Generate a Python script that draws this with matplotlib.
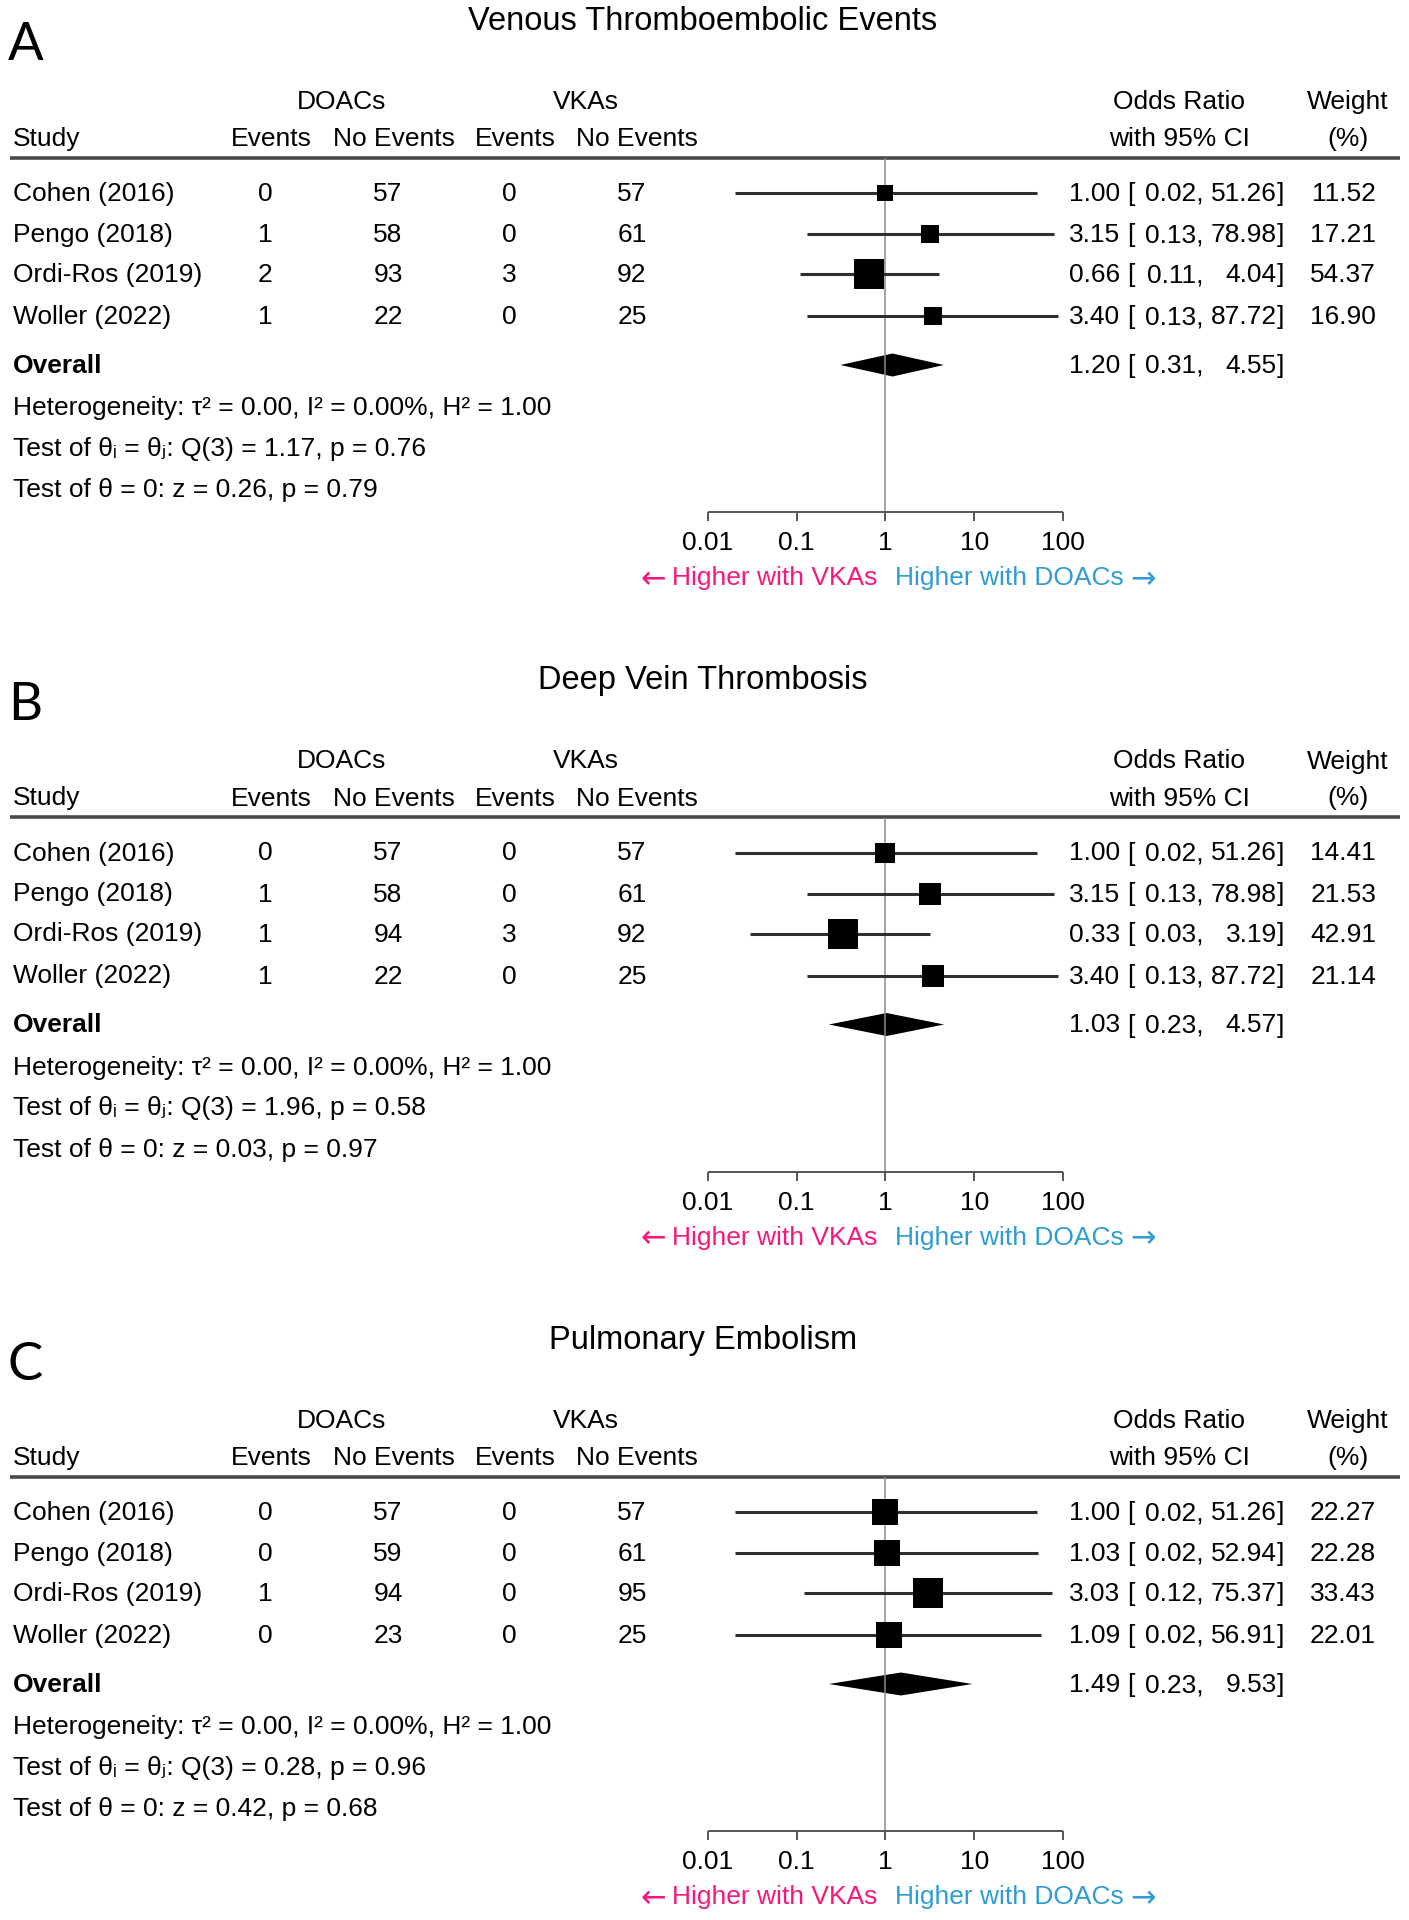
import numpy as np
import matplotlib
matplotlib.use('Agg')
import matplotlib.pyplot as plt

plt.rcParams['font.family'] = ['Liberation Sans', 'DejaVu Sans']

W, H = 1409, 1920

studies = ['Cohen (2016)', 'Pengo (2018)', 'Ordi-Ros (2019)', 'Woller (2022)']
titles = ['Venous Thromboembolic Events', 'Deep Vein Thrombosis', 'Pulmonary Embolism']
letters = ['A', 'B', 'C']

doac_events = [[0, 1, 2, 1], [0, 1, 1, 1], [0, 0, 1, 0]]
doac_none = [[57, 58, 93, 22], [57, 58, 94, 22], [57, 59, 94, 23]]
vka_events = [[0, 0, 3, 0], [0, 0, 3, 0], [0, 0, 0, 0]]
vka_none = [[57, 61, 92, 25], [57, 61, 92, 25], [57, 61, 95, 25]]

odds = [[1.00, 3.15, 0.66, 3.40], [1.00, 3.15, 0.33, 3.40], [1.00, 1.03, 3.03, 1.09]]
ci_low = [[0.02, 0.13, 0.11, 0.13], [0.02, 0.13, 0.03, 0.13], [0.02, 0.02, 0.12, 0.02]]
ci_high = [[51.26, 78.98, 4.04, 87.72], [51.26, 78.98, 3.19, 87.72], [51.26, 52.94, 75.37, 56.91]]
weights = [[11.52, 17.21, 54.37, 16.90], [14.41, 21.53, 42.91, 21.14], [22.27, 22.28, 33.43, 22.01]]

overall_or = [1.20, 1.03, 1.49]
overall_low = [0.31, 0.23, 0.23]
overall_high = [4.55, 4.57, 9.53]

q_stat = [1.17, 1.96, 0.28]
q_p = [0.76, 0.58, 0.96]
z_stat = [0.26, 0.03, 0.42]
z_p = [0.79, 0.97, 0.68]

ticks = [0.01, 0.1, 1, 10, 100]
tick_labels = ['0.01', '0.1', '1', '10', '100']

pink = '#f7187d'
blue = '#2f9cd2'
fs = 19

fig = plt.figure(figsize=(W / 100, H / 100), dpi=100)

row_y = [193, 234, 274, 316]
y_over = 365
y_axis = 512
dy = 1.0  # text sits a bit lower than the marks


def panel(k):
    top = k * 659.5
    ax = fig.add_axes([0, 1 - (top + 600) / H, 1, 600 / H])
    ax.set_xscale('log')
    ax.set_xlim(10 ** (-2 - 708 / 88.75), 10 ** (-2 + (W - 708) / 88.75))
    ax.set_ylim(600, 0)
    ax.axis('off')
    tr = ax.get_yaxis_transform()

    def txt(px, y, s, ha='left', **kw):
        kw.setdefault('fontsize', fs)
        return ax.text(px / W, y + dy, s, transform=tr, ha=ha, va='center', **kw)

    txt(703, 20, titles[k], ha='center', fontsize=23.5)
    txt(8, 45, letters[k], fontsize=38, family=['Lato', 'DejaVu Sans'])

    txt(342, 101, 'DOACs', ha='center')
    txt(586, 101, 'VKAs', ha='center')
    txt(1179, 101, 'Odds Ratio', ha='center')
    txt(1348, 101, 'Weight', ha='center')
    txt(13, 138, 'Study')
    txt(271, 138, 'Events', ha='center')
    txt(394, 138, 'No Events', ha='center')
    txt(515, 138, 'Events', ha='center')
    txt(637, 138, 'No Events', ha='center')
    txt(1179, 138, 'with 95% CI', ha='center')
    txt(1348, 138, '(%)', ha='center')
    ax.plot([10 / W, 1400 / W], [157.5, 157.5], transform=tr, color='#4a4a4a', lw=2.6,
            solid_capstyle='butt')

    ax.vlines(1, 158, y_axis, color='#8a8a8a', lw=1.1)

    wmax = max(weights[k])
    for i, y in enumerate(row_y):
        txt(13, y, studies[i])
        txt(265, y, str(doac_events[k][i]), ha='center')
        txt(388, y, str(doac_none[k][i]), ha='center')
        txt(509, y, str(vka_events[k][i]), ha='center')
        txt(632, y, str(vka_none[k][i]), ha='center')
        ax.hlines(y, ci_low[k][i], ci_high[k][i], color='#2f2f2f', lw=2.2)
        side = 3.5 + 27 * np.sqrt(weights[k][i] / wmax)
        ax.plot(odds[k][i], y, marker='s', ms=side * 0.72, mew=0, color='black', ls='none')
        txt(1120, y, f'{odds[k][i]:.2f}', ha='right')
        txt(1127, y, '[')
        txt(1204, y, f'{ci_low[k][i]:.2f},', ha='right')
        txt(1277, y, f'{ci_high[k][i]:.2f}', ha='right')
        txt(1277, y, ']')
        txt(1376, y, f'{weights[k][i]:.2f}', ha='right')

    txt(13, y_over, 'Overall', fontweight='bold')
    dh = 11.5
    ax.fill([overall_low[k], overall_or[k], overall_high[k], overall_or[k]],
            [y_over, y_over - dh, y_over, y_over + dh], color='black', lw=0)
    txt(1120, y_over, f'{overall_or[k]:.2f}', ha='right')
    txt(1127, y_over, '[')
    txt(1204, y_over, f'{overall_low[k]:.2f},', ha='right')
    txt(1277, y_over, f'{overall_high[k]:.2f}', ha='right')
    txt(1277, y_over, ']')

    txt(13, 407, 'Heterogeneity: τ² = 0.00, I² = 0.00%, H² = 1.00')
    txt(13, 448, f'Test of θᵢ = θⱼ: Q(3) = {q_stat[k]:.2f}, p = {q_p[k]:.2f}')
    txt(13, 489, f'Test of θ = 0: z = {z_stat[k]:.2f}, p = {z_p[k]:.2f}')

    ax.hlines(y_axis, ticks[0], ticks[-1], color='#555555', lw=1.4)
    ax.vlines(ticks, y_axis, y_axis + 9, color='#555555', lw=1.4)
    for t, lab in zip(ticks, tick_labels):
        ax.text(t, 542 + dy, lab, ha='center', va='center', fontsize=fs)

    left = txt(877, 577, 'Higher with VKAs', ha='right', color=pink)
    right = txt(895, 577, 'Higher with DOACs', color=blue)
    ax.annotate('←', xy=(0, 0.45), xycoords=left, xytext=(-4, 0), textcoords='offset points',
                ha='right', va='center', fontsize=22, color=pink, family='DejaVu Sans')
    ax.annotate('→', xy=(1, 0.45), xycoords=right, xytext=(5, 0), textcoords='offset points',
                ha='left', va='center', fontsize=22, color=blue, family='DejaVu Sans')


for k in range(3):
    panel(k)

fig.savefig('out.png', dpi=100)
